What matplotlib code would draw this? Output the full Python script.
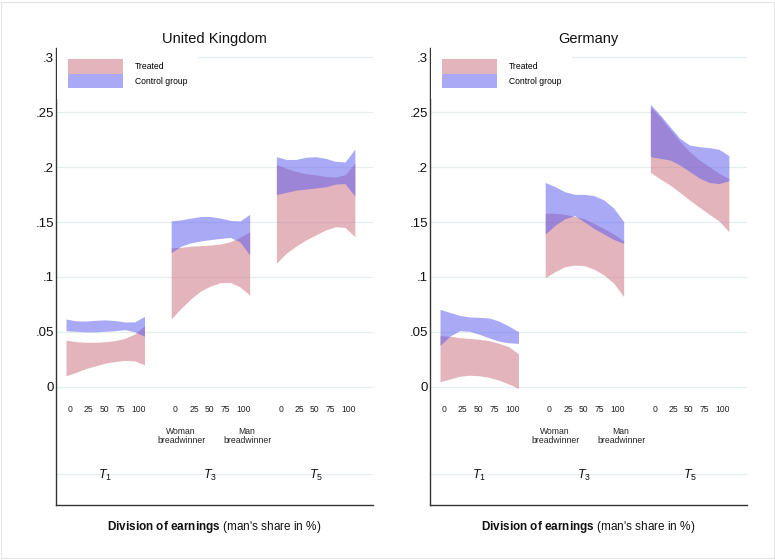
import matplotlib
matplotlib.use("Agg")
import matplotlib.pyplot as plt
from matplotlib.patches import Patch, Rectangle

plt.rcParams.update({
    "font.family": ["Liberation Sans", "DejaVu Sans"],
    "mathtext.fontset": "custom",
    "mathtext.rm": "Liberation Sans",
    "mathtext.it": "Liberation Sans:italic",
    "mathtext.bf": "Liberation Sans:bold",
})

# ---------------------------------------------------------------- data
SHARE = [0, 12.5, 25, 37.5, 50, 62.5, 75, 87.5, 100]   # man's share of earnings (%)
TICK_VALUES = ["0", "25", "50", "75", "100"]
PERIODS = ["$T_1$", "$T_3$", "$T_5$"]
COUNTRIES = ["United Kingdom", "Germany"]
Y_TICKS = [0, .05, .1, .15, .2, .25, .3]
Y_TICK_LABELS = ["0", ".05", ".1", ".15", ".2", ".25", ".3"]

# United Kingdom: confidence bands (lower / upper) per period
UK_T1_TREATED_LO = [.010, .013, .0165, .019, .0215, .023, .024, .0235, .020]
UK_T1_TREATED_HI = [.0425, .041, .0405, .0405, .041, .042, .044, .048, .0555]
UK_T1_CONTROL_LO = [.051, .0505, .050, .050, .0505, .051, .052, .050, .046]
UK_T1_CONTROL_HI = [.0617, .0600, .0598, .0605, .0609, .0603, .0590, .0590, .0641]

UK_T3_TREATED_LO = [.0617, .0714, .0799, .0872, .0917, .0947, .095, .091, .0835]
UK_T3_TREATED_HI = [.1265, .127, .128, .1285, .129, .130, .132, .136, .141]
UK_T3_CONTROL_LO = [.122, .128, .131, .1327, .134, .135, .136, .132, .120]
UK_T3_CONTROL_HI = [.151, .152, .1536, .155, .155, .1536, .1515, .1509, .157]

UK_T5_TREATED_LO = [.1124, .1215, .1281, .1336, .1382, .1427, .1457, .1451, .1366]
UK_T5_TREATED_HI = [.2025, .199, .196, .194, .193, .1915, .191, .193, .2035]
UK_T5_CONTROL_LO = [.175, .177, .179, .180, .181, .182, .1845, .185, .1735]
UK_T5_CONTROL_HI = [.2095, .207, .207, .209, .2095, .208, .2053, .2047, .2165]

# Germany: confidence bands (lower / upper) per period
DE_T1_TREATED_LO = [.0046, .007, .0095, .0105, .0100, .0085, .006, .0025, -.0015]
DE_T1_TREATED_HI = [.0465, .046, .0447, .044, .0432, .042, .0395, .0365, .030]
DE_T1_CONTROL_LO = [.0375, .046, .051, .0505, .0478, .0445, .0415, .040, .0395]
DE_T1_CONTROL_HI = [.0705, .0677, .0650, .0635, .0632, .0626, .0598, .0553, .0501]

DE_T3_TREATED_LO = [.0993, .1048, .1093, .1108, .1102, .1069, .1017, .0941, .082]
DE_T3_TREATED_HI = [.158, .158, .157, .155, .153, .1485, .144, .139, .1327]
DE_T3_CONTROL_LO = [.139, .147, .153, .1558, .150, .144, .139, .134, .1306]
DE_T3_CONTROL_HI = [.1861, .1822, .1776, .1752, .1752, .174, .170, .1625, .1503]

DE_T5_TREATED_LO = [.1953, .1892, .1837, .177, .170, .1634, .157, .1509, .1412]
DE_T5_TREATED_HI = [.2550, .2455, .2345, .2235, .214, .2065, .2004, .1943, .1895]
DE_T5_CONTROL_LO = [.2095, .208, .2065, .202, .196, .190, .186, .185, .1875]
DE_T5_CONTROL_HI = [.2572, .2475, .2368, .2262, .2201, .2186, .2177, .2162, .2104]

BANDS = {
    "United Kingdom": [
        (UK_T1_TREATED_LO, UK_T1_TREATED_HI, UK_T1_CONTROL_LO, UK_T1_CONTROL_HI),
        (UK_T3_TREATED_LO, UK_T3_TREATED_HI, UK_T3_CONTROL_LO, UK_T3_CONTROL_HI),
        (UK_T5_TREATED_LO, UK_T5_TREATED_HI, UK_T5_CONTROL_LO, UK_T5_CONTROL_HI),
    ],
    "Germany": [
        (DE_T1_TREATED_LO, DE_T1_TREATED_HI, DE_T1_CONTROL_LO, DE_T1_CONTROL_HI),
        (DE_T3_TREATED_LO, DE_T3_TREATED_HI, DE_T3_CONTROL_LO, DE_T3_CONTROL_HI),
        (DE_T5_TREATED_LO, DE_T5_TREATED_HI, DE_T5_CONTROL_LO, DE_T5_CONTROL_HI),
    ],
}

# ---------------------------------------------------------------- style / layout
TREATED_COLOR = (203 / 255, 107 / 255, 125 / 255)
CONTROL_COLOR = (85 / 255, 85 / 255, 239 / 255)
BAND_ALPHA = 0.5
GRID_COLOR = "#e6eef0"
AXIS_COLOR = "#333333"

GROUP_STEP = 134                          # horizontal distance between period panels
TICK_TEXT_X = [5.4, 29.1, 49, 69, 92.7]   # where the share labels sit inside a panel
ROW_NUMBERS_Y = -0.0206
ROW_BREAD_Y = -0.0449
ROW_PERIOD_Y = -0.0795

W, H = 775, 560
fig = plt.figure(figsize=(W / 100, H / 100), dpi=100)
fig.patch.set_facecolor("white")

axes_left_px = [56, 430]
for country, left_px in zip(COUNTRIES, axes_left_px):
    ax = fig.add_axes([left_px / W, 55 / H, 317 / W, 456.7 / H])
    ax.set_xlim(-12.74, 391.1)
    ax.set_ylim(-0.1077, 0.3082)

    for y in Y_TICKS + [ROW_PERIOD_Y]:
        ax.axhline(y, color=GRID_COLOR, lw=0.9, zorder=0)

    for g, (t_lo, t_hi, c_lo, c_hi) in enumerate(BANDS[country]):
        xs = [g * GROUP_STEP + s for s in SHARE]
        ax.fill_between(xs, t_lo, t_hi, color=TREATED_COLOR, alpha=BAND_ALPHA,
                        lw=0, zorder=2)
        ax.fill_between(xs, c_lo, c_hi, color=CONTROL_COLOR, alpha=BAND_ALPHA,
                        lw=0, zorder=3)

        for xt, lab in zip(TICK_TEXT_X, TICK_VALUES):
            ax.text(g * GROUP_STEP + xt, ROW_NUMBERS_Y, lab, ha="center",
                    va="center", fontsize=6.2, color="#222222")
        ax.text(g * GROUP_STEP + 50, ROW_PERIOD_Y - 0.0015, PERIODS[g],
                ha="center", va="center", fontsize=9, color="#111111")

    # end-point descriptions under the middle panel
    ax.text(GROUP_STEP + 12.7, ROW_BREAD_Y, "Woman\nbreadwinner", ha="center",
            va="center", fontsize=6.2, linespacing=0.95, color="#222222")
    ax.text(GROUP_STEP + 96.8, ROW_BREAD_Y, "Man\nbreadwinner", ha="center",
            va="center", fontsize=6.2, linespacing=0.95, color="#222222")

    ax.set_xticks([])
    ax.set_yticks(Y_TICKS, Y_TICK_LABELS)
    ax.tick_params(axis="y", length=0, pad=1.5, labelsize=9.5, labelcolor="#111111")
    for side in ("top", "right"):
        ax.spines[side].set_visible(False)
    for side in ("left", "bottom"):
        ax.spines[side].set_color(AXIS_COLOR)
        ax.spines[side].set_linewidth(1.0)

    ax.set_title(country, fontsize=10.5, pad=3.8, color="#111111")
    ax.text(0.5, -0.0488, r"$\mathbf{Division\ of\ earnings}$ (man's share in %)",
            transform=ax.transAxes, ha="center", va="center", fontsize=8.5,
            color="#111111")

    handles = [
        Patch(facecolor=TREATED_COLOR, alpha=BAND_ALPHA, lw=0, label="Treated"),
        Patch(facecolor=CONTROL_COLOR, alpha=BAND_ALPHA, lw=0, label="Control group"),
    ]
    leg = ax.legend(handles=handles, loc="upper left", bbox_to_anchor=(0.003, 1.0),
                    borderaxespad=0, borderpad=1.25, handlelength=6.4,
                    handleheight=2.25, handletextpad=1.4, labelspacing=0,
                    fontsize=6.2, frameon=True, fancybox=False, framealpha=1,
                    facecolor="white", edgecolor="none")
    leg.set_zorder(5)

fig.add_artist(Rectangle((1 / W, 2 / H), 772.5 / W, 556 / H,
                         transform=fig.transFigure, fill=False,
                         edgecolor="#e4e4e4", lw=0.8))

fig.savefig("out.png", dpi=100)
